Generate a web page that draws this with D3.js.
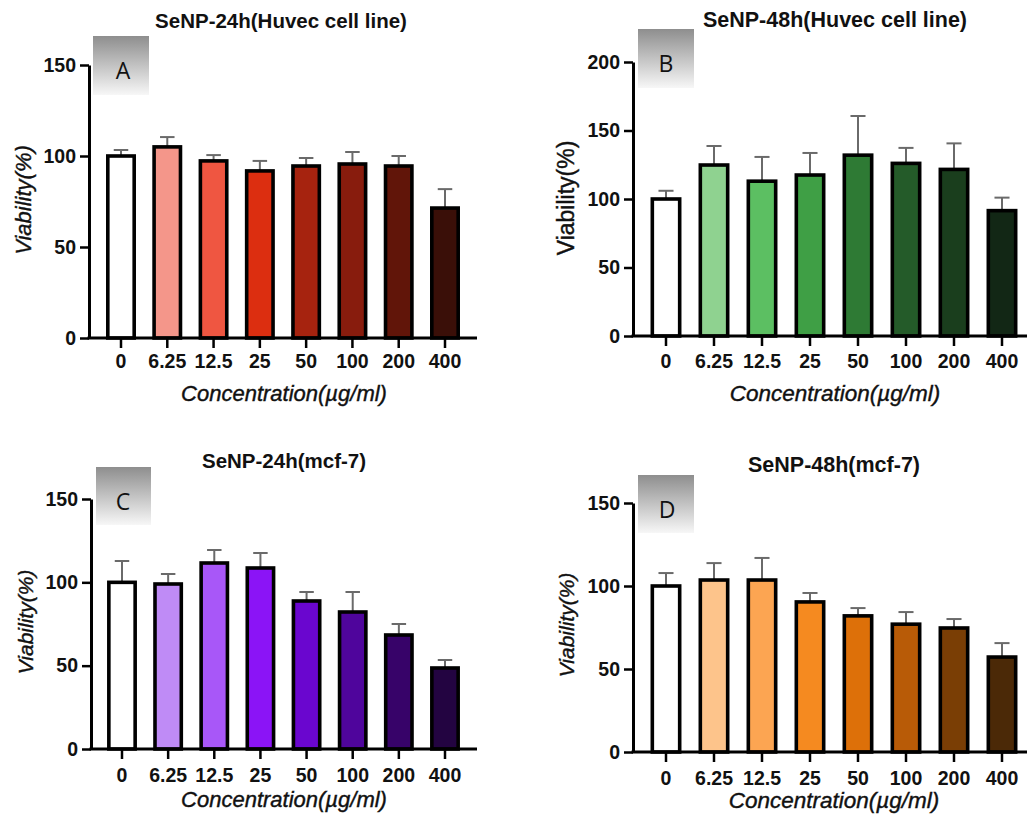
<!DOCTYPE html>
<html>
<head>
<meta charset="utf-8">
<script src="https://cdn.jsdelivr.net/npm/d3@7"></script>
<style>
  html, body { margin: 0; padding: 0; background: #fff; }
  svg { display: block; }
</style>
</head>
<body>
<svg id="chart" width="1027" height="816"></svg>
<script>
// ---------------- DATA ----------------
const concentrations = ["0", "6.25", "12.5", "25", "50", "100", "200", "400"];

const huvec24Mean = [100, 105, 97.3, 91.8, 94.5, 95.6, 94.5, 71.4];
const huvec24SD   = [3.3, 5.4, 3.2, 5.5, 4.4, 6.6, 5.5, 10.4];

const huvec48Mean = [100, 124.8, 113, 117.5, 132, 126, 121.6, 91.5];
const huvec48SD   = [6, 13.9, 17.7, 16.1, 28.6, 11.3, 19, 9.5];

const mcf24Mean = [100, 99, 111.6, 108.6, 88.8, 82.2, 68.4, 48.6];
const mcf24SD   = [12.8, 6, 7.8, 9, 5.4, 12, 6.6, 4.8];

const mcf48Mean = [100, 103.6, 103.6, 90.4, 82, 77, 74.7, 57.2];
const mcf48SD   = [7.8, 10.2, 13.3, 5.4, 4.7, 7.3, 5.4, 8.4];

const ticks150 = [0, 50, 100, 150];
const ticks200 = [0, 50, 100, 150, 200];

const titles = ["SeNP-24h(Huvec cell line)", "SeNP-48h(Huvec cell line)", "SeNP-24h(mcf-7)", "SeNP-48h(mcf-7)"];
const panelLetters = ["A", "B", "C", "D"];
const yLabel = "Viability(%)";
const xLabel = "Concentration(\u00b5g/ml)";

// ---------------- STYLES ----------------
const redColors    = ["#ffffff", "#f4968a", "#ef5641", "#dc2e10", "#a6230f", "#881c0d", "#611509", "#3a0f08"];
const greenColors  = ["#ffffff", "#8fd290", "#5cbf62", "#3f9f45", "#2e7a34", "#245b29", "#1a3e1d", "#122715"];
const purpleColors = ["#ffffff", "#bf8bf6", "#a857f8", "#8b14f6", "#6a06cf", "#4f059c", "#370369", "#230441"];
const orangeColors = ["#ffffff", "#fdc48b", "#fca552", "#f58a20", "#dd7009", "#b85b07", "#7a3e05", "#4b2907"];

// ---------------- LAYOUT ----------------
const layouts = [
  { mean: huvec24Mean, sd: huvec24SD, colors: redColors, yMax: 150, yTicks: ticks150,
    yAxisX: 89, yTop: 65, y0: 338, xFirst: 121, xLast: 445, xEnd: 477,
    titleX: 281, titleY: 28, titleSize: 20.5,
    box: [93, 36, 56, 59], letterX: 123, letterY: 79,
    ylabX: 31, ylabY: 200, ylabSize: 22, ylabItalic: true,
    xlabX: 284, xlabY: 401, xlabSize: 22, tickPad: 7 },
  { mean: huvec48Mean, sd: huvec48SD, colors: greenColors, yMax: 200, yTicks: ticks200,
    yAxisX: 633, yTop: 62, y0: 336, xFirst: 666, xLast: 1002, xEnd: 1027,
    titleX: 835, titleY: 27, titleSize: 21.5,
    box: [638, 29, 56, 59], letterX: 666, letterY: 72,
    ylabX: 574, ylabY: 198, ylabSize: 23, ylabItalic: false,
    xlabX: 835, xlabY: 401, xlabSize: 22.5, tickPad: 9 },
  { mean: mcf24Mean, sd: mcf24SD, colors: purpleColors, yMax: 150, yTicks: ticks150,
    yAxisX: 91, yTop: 499, y0: 749, xFirst: 122, xLast: 445, xEnd: 477,
    titleX: 284, titleY: 468, titleSize: 20.5,
    box: [96, 467, 55, 58], letterX: 123, letterY: 510,
    ylabX: 33, ylabY: 622, ylabSize: 21, ylabItalic: true,
    xlabX: 284, xlabY: 807, xlabSize: 22, tickPad: 10 },
  { mean: mcf48Mean, sd: mcf48SD, colors: orangeColors, yMax: 150, yTicks: ticks150,
    yAxisX: 633, yTop: 503, y0: 752, xFirst: 666, xLast: 1002, xEnd: 1027,
    titleX: 834, titleY: 472, titleSize: 21.5,
    box: [638, 475, 56, 58], letterX: 667, letterY: 518,
    ylabX: 574, ylabY: 625, ylabSize: 21, ylabItalic: true,
    xlabX: 834, xlabY: 808, xlabSize: 22.5, tickPad: 10 }
];

const svg = d3.select("#chart");
svg.append("rect").attr("width", 1027).attr("height", 816).attr("fill", "#fff");

const defs = svg.append("defs");
const grad = defs.append("linearGradient").attr("id", "boxGrad")
  .attr("x1", 0).attr("y1", 0).attr("x2", 0).attr("y2", 1);
grad.append("stop").attr("offset", "0%").attr("stop-color", "#8e8e8e");
grad.append("stop").attr("offset", "100%").attr("stop-color", "#f7f7f7");

const FONT = "'Liberation Sans', Arial, Helvetica, sans-serif";

layouts.forEach((L, i) => {
  const g = svg.append("g");
  const step = (L.xLast - L.xFirst) / (concentrations.length - 1);
  const x = d3.scaleBand()
    .domain(concentrations)
    .range([L.xFirst - step / 2, L.xLast + step / 2])
    .paddingInner(0.43)
    .paddingOuter(0.215);
  const y = d3.scaleLinear().domain([0, L.yMax]).range([L.y0, L.yTop]);

  // panel letter box
  g.append("rect")
    .attr("x", L.box[0]).attr("y", L.box[1])
    .attr("width", L.box[2]).attr("height", L.box[3])
    .attr("fill", "url(#boxGrad)");
  g.append("text")
    .attr("x", L.letterX).attr("y", L.letterY)
    .attr("text-anchor", "middle")
    .attr("font-family", "'Open Sans', 'Liberation Sans', sans-serif")
    .attr("font-size", 23)
    .attr("fill", "#111")
    .text(panelLetters[i]);

  // title
  g.append("text")
    .attr("x", L.titleX).attr("y", L.titleY)
    .attr("text-anchor", "middle")
    .attr("font-family", FONT)
    .attr("font-weight", "bold")
    .attr("font-size", L.titleSize)
    .attr("fill", "#111")
    .text(titles[i]);

  const data = concentrations.map((c, k) => ({ c, m: L.mean[k], s: L.sd[k], col: L.colors[k] }));

  // error bars (behind bars)
  const eb = g.append("g").attr("stroke", "#6a6a6a").attr("stroke-width", 2).attr("fill", "none");
  data.forEach(d => {
    const cx = x(d.c) + x.bandwidth() / 2;
    const capW = x.bandwidth() * 0.55;
    eb.append("line").attr("x1", cx).attr("x2", cx).attr("y1", y(d.m)).attr("y2", y(d.m + d.s));
    eb.append("line").attr("x1", cx - capW / 2).attr("x2", cx + capW / 2)
      .attr("y1", y(d.m + d.s)).attr("y2", y(d.m + d.s));
  });

  // bars
  g.append("g").selectAll("rect").data(data).join("rect")
    .attr("x", d => x(d.c))
    .attr("y", d => y(d.m))
    .attr("width", x.bandwidth())
    .attr("height", d => y(0) - y(d.m))
    .attr("fill", d => d.col)
    .attr("stroke", "#000")
    .attr("stroke-width", 3.6);

  // y axis
  const yAxis = g.append("g")
    .attr("transform", `translate(${L.yAxisX},0)`)
    .call(d3.axisLeft(y).tickValues(L.yTicks).tickSize(9).tickSizeOuter(0).tickPadding(4));
  yAxis.select(".domain").attr("stroke", "#000").attr("stroke-width", 3);
  yAxis.selectAll(".tick line").attr("stroke", "#000").attr("stroke-width", 2.5);
  yAxis.selectAll(".tick text")
    .attr("font-family", FONT).attr("font-weight", "bold").attr("font-size", 19.5).attr("fill", "#111");

  // x axis
  const xAxis = g.append("g")
    .attr("transform", `translate(0,${L.y0})`)
    .call(d3.axisBottom(x).tickSize(10).tickSizeOuter(0).tickPadding(L.tickPad - 1));
  xAxis.select(".domain").remove();
  xAxis.selectAll(".tick line").attr("stroke", "#000").attr("stroke-width", 2.5);
  xAxis.selectAll(".tick text")
    .attr("font-family", FONT).attr("font-weight", "bold").attr("font-size", 19.5).attr("fill", "#111");
  g.append("line")
    .attr("x1", L.yAxisX - 1.5).attr("x2", L.xEnd)
    .attr("y1", L.y0).attr("y2", L.y0)
    .attr("stroke", "#000").attr("stroke-width", 3);

  // axis labels
  g.append("text")
    .attr("transform", `translate(${L.ylabX},${L.ylabY}) rotate(-90)`)
    .attr("text-anchor", "middle")
    .attr("font-family", FONT)
    .attr("font-style", L.ylabItalic ? "italic" : "normal")
    .attr("font-size", L.ylabSize)
    .attr("fill", "#111")
    .attr("stroke", "#111").attr("stroke-width", 0.4)
    .text(yLabel);

  g.append("text")
    .attr("x", L.xlabX).attr("y", L.xlabY)
    .attr("text-anchor", "middle")
    .attr("font-family", FONT)
    .attr("font-style", "italic")
    .attr("font-size", L.xlabSize)
    .attr("fill", "#111")
    .attr("stroke", "#111").attr("stroke-width", 0.4)
    .text(xLabel);
});
</script>
</body>
</html>
